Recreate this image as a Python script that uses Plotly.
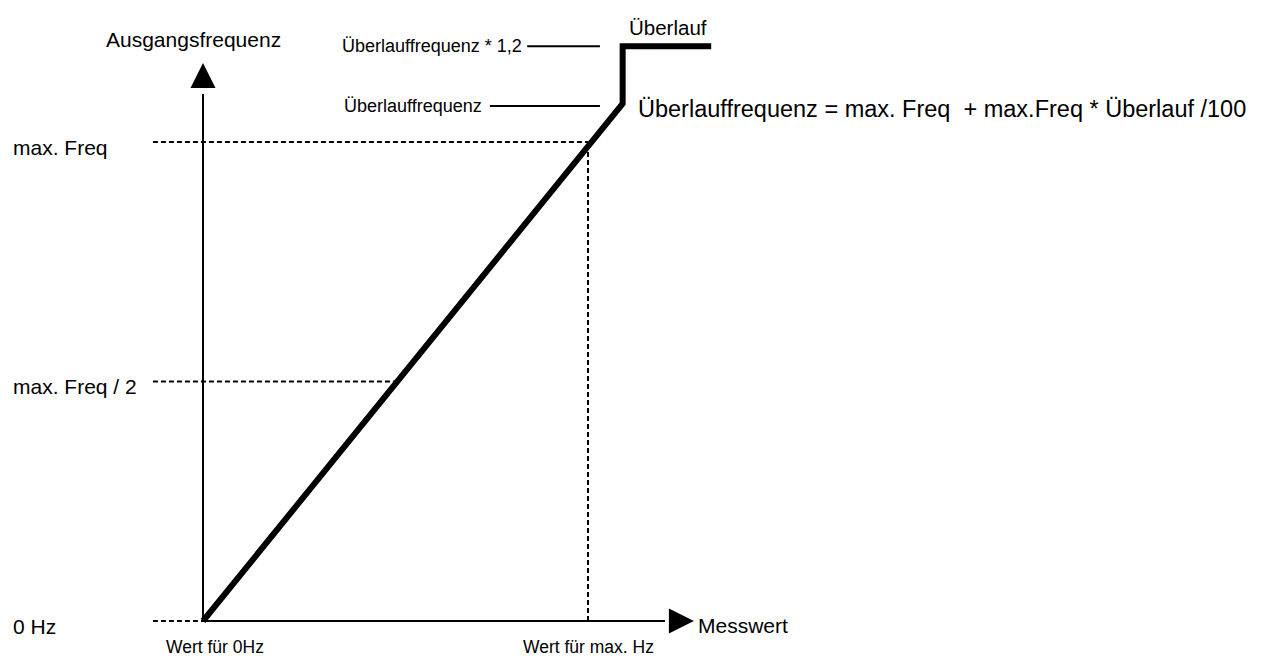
import plotly.graph_objects as go

# logical units: x = Messwert (1 = "Wert für max. Hz"), y = Frequenz (1 = max. Freq)
ramp_x = [0, 1.09, 1.09, 1.32]
ramp_y = [0, 1.08, 1.2, 1.2]

guide_levels = [1.0, 0.5, 0.0]
guide_ends = [1.0, 0.5, 0.0]
guide_labels = ["max. Freq", "max. Freq / 2", "0 Hz"]

xmax_pos = 1.0
overflow_levels = [1.2, 1.075]
overflow_labels = ["Überlauffrequenz * 1,2", "Überlauffrequenz"]

FONT = "Liberation Sans, Arial, sans-serif"

# page has an 8px body margin -> figure is drawn 8px right/down
W, H = 1258, 651
x0px, xs = 195, 385   # x=0 / scale px per unit
y0px, ys = 613, 479   # y=0 / scale px per unit
xr = [-x0px / xs, (W - x0px) / xs]
yr = [-(H - y0px) / ys, y0px / ys]

fig = go.Figure()

# dashed guides
dash = dict(color="black", width=2, dash="5px,3px")
for lv, end in zip(guide_levels, guide_ends):
    fig.add_trace(go.Scatter(x=[-0.13, end], y=[lv, lv], mode="lines", line=dash))
fig.add_trace(go.Scatter(x=[xmax_pos, xmax_pos], y=[0, 1], mode="lines", line=dash))

# axes with arrow heads
fig.add_trace(go.Scatter(x=[0, 0], y=[0, 1.1], mode="lines", line=dict(color="black", width=2)))
fig.add_trace(go.Scatter(x=[0, 1.2], y=[0, 0], mode="lines", line=dict(color="black", width=2)))
fig.add_trace(go.Scatter(x=[0], y=[1.165], mode="markers",
                         marker=dict(symbol="arrow-up", size=25, color="black",
                                     line=dict(width=0))))
fig.add_trace(go.Scatter(x=[1.275], y=[0], mode="markers",
                         marker=dict(symbol="arrow-right", size=25, color="black",
                                     line=dict(width=0))))

# leader lines
fig.add_trace(go.Scatter(x=[0.842, 1.031], y=[overflow_levels[0]] * 2, mode="lines",
                         line=dict(color="black", width=2)))
fig.add_trace(go.Scatter(x=[0.745, 1.031], y=[overflow_levels[1]] * 2, mode="lines",
                         line=dict(color="black", width=2)))

# characteristic
fig.add_trace(go.Scatter(x=ramp_x, y=ramp_y, mode="lines",
                         line=dict(color="black", width=6)))

ann = []
for lv, lab in zip(guide_levels, guide_labels):
    ann.append(dict(x=-0.5, y=lv, yshift=-5, text=lab, xanchor="left", font=dict(size=21)))
ann.append(dict(x=-0.025, y=1.213, text="Ausgangsfrequenz", xanchor="center",
                font=dict(size=21)))
ann.append(dict(x=1.28, y=0, yshift=-4, text="Messwert", xanchor="left", font=dict(size=21)))
ann.append(dict(x=0.03, y=-0.054, text="Wert für 0Hz", xanchor="center", font=dict(size=17.5)))
ann.append(dict(x=xmax_pos, y=-0.054, text="Wert für max. Hz", xanchor="center",
                font=dict(size=17.5)))
ann.append(dict(x=1.209, y=1.24, text="Überlauf", xanchor="center", font=dict(size=20.5)))
ann.append(dict(x=0.833, y=overflow_levels[0], text=overflow_labels[0], xanchor="right",
                font=dict(size=18)))
ann.append(dict(x=0.73, y=overflow_levels[1], text=overflow_labels[1], xanchor="right",
                font=dict(size=18)))
ann.append(dict(x=1.125, y=1.069,
                text="Überlauffrequenz = max. Freq\u00a0 + max.Freq * Überlauf /100",
                xanchor="left", font=dict(size=23.5)))
for a in ann:
    a.update(xref="x", yref="y", showarrow=False, yanchor="middle")
    a["font"].update(family=FONT, color="black")

fig.update_layout(
    width=W, height=H,
    margin=dict(l=0, r=0, t=0, b=0),
    paper_bgcolor="white", plot_bgcolor="white",
    showlegend=False,
    xaxis=dict(range=xr, visible=False, fixedrange=True),
    yaxis=dict(range=yr, visible=False, fixedrange=True),
    annotations=ann,
)

fig.write_html("out.html")
